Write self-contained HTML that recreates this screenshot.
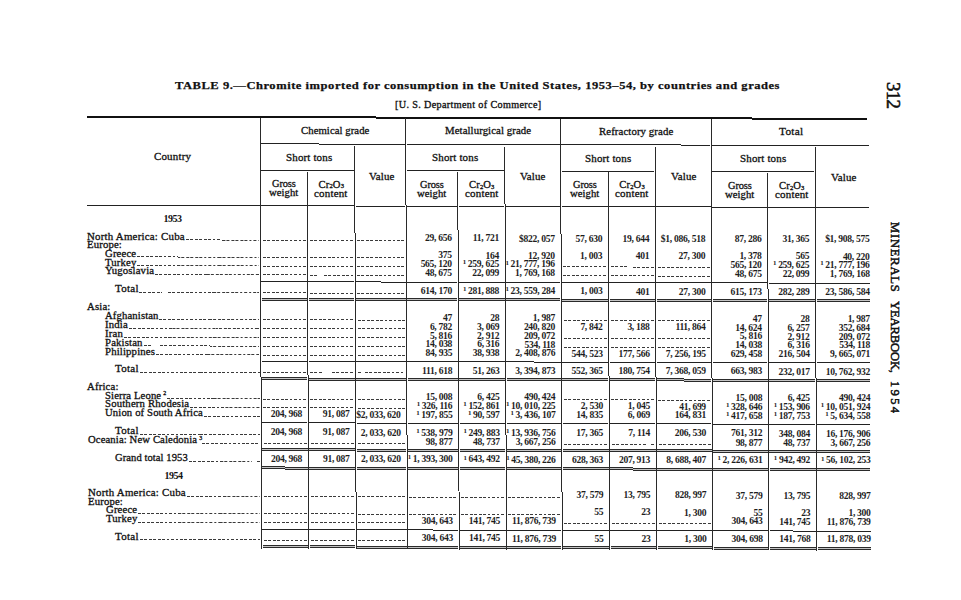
<!DOCTYPE html>
<html><head><meta charset="utf-8"><title>Table 9</title>
<style>
html,body{margin:0;padding:0;background:#fff;}
body{width:961px;height:600px;overflow:hidden;position:relative;}
#pg{position:absolute;left:0;top:0;width:961px;height:600px;font-family:"Liberation Serif", serif;color:#111;}
.t{position:absolute;white-space:nowrap;-webkit-text-stroke:0.3px #111;}
.l{position:absolute;}
.d{position:absolute;height:1.45px;background:repeating-linear-gradient(to right,#3a3a3a 0 2.8px,transparent 2.8px 4.44px);}
.r{transform-origin:0 0;transform:rotate(90deg);}
.sb{font-size:0.62em;position:relative;top:0.12em;letter-spacing:0;line-height:0;}
.sp{font-size:0.55em;position:relative;top:-0.55em;margin-left:2px;letter-spacing:0;line-height:0;}
.su{font-size:0.72em;position:relative;top:-0.42em;margin-right:1.6px;letter-spacing:0;line-height:0;}
</style></head><body><div id="pg">
<!--title-->
<div class="t" style="left:175.39px;top:79.89px;font-size:11.4px;line-height:11.4px;letter-spacing:0.477px;font-weight:bold;-webkit-text-stroke:0;color:#111;-webkit-text-stroke:0.25px #111;transform:scaleX(1.1013);transform-origin:0 0;">TABLE 9.—Chromite imported for consumption in the United States, 1953–54, by countries and grades</div>
<div class="t" style="left:395.26px;top:100.76px;font-size:9.4px;line-height:9.4px;letter-spacing:0.323px;color:#111;transform:scaleX(1.0837);transform-origin:0 0;">[U. S. Department of Commerce]</div>
<div class="l" style="left:87.00px;top:116px;width:289.07px;height:2px;background:#111"></div>
<div class="l" style="left:376.07px;top:117px;width:375.80px;height:2px;background:#111"></div>
<div class="l" style="left:751.87px;top:118px;width:115.63px;height:2px;background:#111"></div>
<div class="l" style="left:260.91px;top:143px;width:57.64px;height:1px;background:#222"></div>
<div class="l" style="left:318.55px;top:144px;width:86.46px;height:1px;background:#222"></div>
<div class="l" style="left:406.61px;top:144px;width:153.20px;height:1px;background:#222"></div>
<div class="l" style="left:561.41px;top:144px;width:119.12px;height:1px;background:#222"></div>
<div class="l" style="left:680.53px;top:145px;width:29.78px;height:1px;background:#222"></div>
<div class="l" style="left:711.91px;top:145px;width:157.20px;height:1px;background:#222"></div>
<div class="l" style="left:261.01px;top:170px;width:92.90px;height:1px;background:#222"></div>
<div class="l" style="left:406.71px;top:170px;width:97.40px;height:1px;background:#222"></div>
<div class="l" style="left:561.51px;top:171px;width:92.90px;height:1px;background:#222"></div>
<div class="l" style="left:712.01px;top:171px;width:102.40px;height:1px;background:#222"></div>
<div class="l" style="left:87.35px;top:205px;width:172.20px;height:1px;background:#222"></div>
<div class="l" style="left:261.15px;top:205px;width:45.40px;height:1px;background:#222"></div>
<div class="l" style="left:308.15px;top:205px;width:45.90px;height:1px;background:#222"></div>
<div class="l" style="left:355.65px;top:206px;width:49.60px;height:1px;background:#222"></div>
<div class="l" style="left:406.85px;top:206px;width:50.20px;height:1px;background:#222"></div>
<div class="l" style="left:458.65px;top:206px;width:45.60px;height:1px;background:#222"></div>
<div class="l" style="left:505.85px;top:206px;width:54.20px;height:1px;background:#222"></div>
<div class="l" style="left:561.65px;top:206px;width:45.90px;height:1px;background:#222"></div>
<div class="l" style="left:609.15px;top:206px;width:45.40px;height:1px;background:#222"></div>
<div class="l" style="left:656.15px;top:206px;width:54.40px;height:1px;background:#222"></div>
<div class="l" style="left:712.15px;top:207px;width:54.70px;height:1px;background:#222"></div>
<div class="l" style="left:768.45px;top:207px;width:46.10px;height:1px;background:#222"></div>
<div class="l" style="left:816.15px;top:207px;width:53.20px;height:1px;background:#222"></div>
<div class="l" style="left:260px;top:118.07px;width:1px;height:258.60px;background:#2a2a2a"></div>
<div class="l" style="left:261px;top:376.67px;width:1px;height:172.40px;background:#2a2a2a"></div>
<div class="l" style="left:307px;top:171.59px;width:1px;height:203.32px;background:#2a2a2a"></div>
<div class="l" style="left:308px;top:374.92px;width:1px;height:174.28px;background:#2a2a2a"></div>
<div class="l" style="left:354px;top:146.22px;width:1px;height:86.38px;background:#2a2a2a"></div>
<div class="l" style="left:355px;top:232.60px;width:1px;height:259.14px;background:#2a2a2a"></div>
<div class="l" style="left:356px;top:491.74px;width:1px;height:57.59px;background:#2a2a2a"></div>
<div class="l" style="left:405px;top:118.46px;width:1px;height:86.20px;background:#2a2a2a"></div>
<div class="l" style="left:406px;top:204.66px;width:1px;height:229.87px;background:#2a2a2a"></div>
<div class="l" style="left:407px;top:434.53px;width:1px;height:114.93px;background:#2a2a2a"></div>
<div class="l" style="left:457px;top:172.00px;width:1px;height:58.09px;background:#2a2a2a"></div>
<div class="l" style="left:458px;top:230.09px;width:1px;height:261.42px;background:#2a2a2a"></div>
<div class="l" style="left:459px;top:491.51px;width:1px;height:58.09px;background:#2a2a2a"></div>
<div class="l" style="left:504px;top:146.63px;width:1px;height:57.59px;background:#2a2a2a"></div>
<div class="l" style="left:505px;top:204.21px;width:1px;height:230.34px;background:#2a2a2a"></div>
<div class="l" style="left:506px;top:434.56px;width:1px;height:115.17px;background:#2a2a2a"></div>
<div class="l" style="left:560px;top:118.88px;width:1px;height:114.93px;background:#2a2a2a"></div>
<div class="l" style="left:561px;top:233.81px;width:1px;height:258.60px;background:#2a2a2a"></div>
<div class="l" style="left:562px;top:492.41px;width:1px;height:57.47px;background:#2a2a2a"></div>
<div class="l" style="left:608px;top:172.41px;width:1px;height:203.32px;background:#2a2a2a"></div>
<div class="l" style="left:609px;top:375.73px;width:1px;height:174.28px;background:#2a2a2a"></div>
<div class="l" style="left:655px;top:147.03px;width:1px;height:230.34px;background:#2a2a2a"></div>
<div class="l" style="left:656px;top:377.38px;width:1px;height:172.76px;background:#2a2a2a"></div>
<div class="l" style="left:711px;top:119.28px;width:1px;height:258.60px;background:#2a2a2a"></div>
<div class="l" style="left:712px;top:377.88px;width:1px;height:172.40px;background:#2a2a2a"></div>
<div class="l" style="left:767px;top:172.84px;width:1px;height:116.18px;background:#2a2a2a"></div>
<div class="l" style="left:768px;top:289.02px;width:1px;height:261.42px;background:#2a2a2a"></div>
<div class="l" style="left:815px;top:147.47px;width:1px;height:230.34px;background:#2a2a2a"></div>
<div class="l" style="left:816px;top:377.81px;width:1px;height:172.76px;background:#2a2a2a"></div>
<div class="l" style="left:261.46px;top:281px;width:45.40px;height:1px;background:#222"></div>
<div class="l" style="left:308.46px;top:281px;width:45.90px;height:1px;background:#222"></div>
<div class="l" style="left:355.96px;top:281px;width:24.80px;height:1px;background:#222"></div>
<div class="l" style="left:380.76px;top:282px;width:24.80px;height:1px;background:#222"></div>
<div class="l" style="left:407.16px;top:282px;width:50.20px;height:1px;background:#222"></div>
<div class="l" style="left:458.96px;top:282px;width:45.60px;height:1px;background:#222"></div>
<div class="l" style="left:506.16px;top:282px;width:54.20px;height:1px;background:#222"></div>
<div class="l" style="left:561.96px;top:282px;width:45.90px;height:1px;background:#222"></div>
<div class="l" style="left:609.46px;top:282px;width:45.40px;height:1px;background:#222"></div>
<div class="l" style="left:656.46px;top:282px;width:54.40px;height:1px;background:#222"></div>
<div class="l" style="left:712.46px;top:282px;width:54.70px;height:1px;background:#222"></div>
<div class="l" style="left:768.76px;top:283px;width:46.10px;height:1px;background:#222"></div>
<div class="l" style="left:816.46px;top:283px;width:53.20px;height:1px;background:#222"></div>
<div class="l" style="left:261.78px;top:361px;width:45.40px;height:1px;background:#222"></div>
<div class="l" style="left:308.78px;top:361px;width:45.90px;height:1px;background:#222"></div>
<div class="l" style="left:356.28px;top:361px;width:49.60px;height:1px;background:#222"></div>
<div class="l" style="left:407.48px;top:361px;width:50.20px;height:1px;background:#222"></div>
<div class="l" style="left:459.28px;top:361px;width:45.60px;height:1px;background:#222"></div>
<div class="l" style="left:506.48px;top:361px;width:27.10px;height:1px;background:#222"></div>
<div class="l" style="left:533.58px;top:362px;width:27.10px;height:1px;background:#222"></div>
<div class="l" style="left:562.28px;top:362px;width:45.90px;height:1px;background:#222"></div>
<div class="l" style="left:609.78px;top:362px;width:45.40px;height:1px;background:#222"></div>
<div class="l" style="left:656.78px;top:362px;width:54.40px;height:1px;background:#222"></div>
<div class="l" style="left:712.78px;top:362px;width:54.70px;height:1px;background:#222"></div>
<div class="l" style="left:769.08px;top:362px;width:46.10px;height:1px;background:#222"></div>
<div class="l" style="left:816.78px;top:362px;width:53.20px;height:1px;background:#222"></div>
<div class="l" style="left:262.02px;top:422px;width:45.40px;height:1px;background:#222"></div>
<div class="l" style="left:309.02px;top:422px;width:45.90px;height:1px;background:#222"></div>
<div class="l" style="left:356.52px;top:423px;width:49.60px;height:1px;background:#222"></div>
<div class="l" style="left:407.72px;top:423px;width:50.20px;height:1px;background:#222"></div>
<div class="l" style="left:459.52px;top:423px;width:45.60px;height:1px;background:#222"></div>
<div class="l" style="left:506.72px;top:423px;width:54.20px;height:1px;background:#222"></div>
<div class="l" style="left:562.52px;top:423px;width:45.90px;height:1px;background:#222"></div>
<div class="l" style="left:610.02px;top:423px;width:45.40px;height:1px;background:#222"></div>
<div class="l" style="left:657.02px;top:423px;width:54.40px;height:1px;background:#222"></div>
<div class="l" style="left:713.02px;top:424px;width:54.70px;height:1px;background:#222"></div>
<div class="l" style="left:769.32px;top:424px;width:46.10px;height:1px;background:#222"></div>
<div class="l" style="left:817.02px;top:424px;width:53.20px;height:1px;background:#222"></div>
<div class="l" style="left:262.45px;top:529px;width:45.40px;height:1px;background:#222"></div>
<div class="l" style="left:309.45px;top:529px;width:45.90px;height:1px;background:#222"></div>
<div class="l" style="left:356.95px;top:529px;width:49.60px;height:1px;background:#222"></div>
<div class="l" style="left:408.15px;top:529px;width:25.10px;height:1px;background:#222"></div>
<div class="l" style="left:433.25px;top:530px;width:25.10px;height:1px;background:#222"></div>
<div class="l" style="left:459.95px;top:530px;width:45.60px;height:1px;background:#222"></div>
<div class="l" style="left:507.15px;top:530px;width:54.20px;height:1px;background:#222"></div>
<div class="l" style="left:562.95px;top:530px;width:45.90px;height:1px;background:#222"></div>
<div class="l" style="left:610.45px;top:530px;width:45.40px;height:1px;background:#222"></div>
<div class="l" style="left:657.45px;top:530px;width:54.40px;height:1px;background:#222"></div>
<div class="l" style="left:713.45px;top:530px;width:54.70px;height:1px;background:#222"></div>
<div class="l" style="left:769.75px;top:530px;width:23.05px;height:1px;background:#222"></div>
<div class="l" style="left:792.80px;top:531px;width:23.05px;height:1px;background:#222"></div>
<div class="l" style="left:817.45px;top:531px;width:53.20px;height:1px;background:#222"></div>
<div class="l" style="left:261.53px;top:298px;width:45.40px;height:3px;background:linear-gradient(#2a2a2a 0 1px,#c4c4c4 1px 2px,#2a2a2a 2px 3px)"></div>
<div class="l" style="left:308.53px;top:298px;width:45.90px;height:3px;background:linear-gradient(#2a2a2a 0 1px,#c4c4c4 1px 2px,#2a2a2a 2px 3px)"></div>
<div class="l" style="left:356.03px;top:298px;width:49.60px;height:3px;background:linear-gradient(#2a2a2a 0 1px,#c4c4c4 1px 2px,#2a2a2a 2px 3px)"></div>
<div class="l" style="left:407.23px;top:298px;width:50.20px;height:3px;background:linear-gradient(#2a2a2a 0 1px,#c4c4c4 1px 2px,#2a2a2a 2px 3px)"></div>
<div class="l" style="left:459.03px;top:298px;width:45.60px;height:3px;background:linear-gradient(#2a2a2a 0 1px,#c4c4c4 1px 2px,#2a2a2a 2px 3px)"></div>
<div class="l" style="left:506.23px;top:298px;width:54.20px;height:3px;background:linear-gradient(#2a2a2a 0 1px,#c4c4c4 1px 2px,#2a2a2a 2px 3px)"></div>
<div class="l" style="left:562.03px;top:299px;width:45.90px;height:3px;background:linear-gradient(#2a2a2a 0 1px,#c4c4c4 1px 2px,#2a2a2a 2px 3px)"></div>
<div class="l" style="left:609.53px;top:299px;width:45.40px;height:3px;background:linear-gradient(#2a2a2a 0 1px,#c4c4c4 1px 2px,#2a2a2a 2px 3px)"></div>
<div class="l" style="left:656.53px;top:299px;width:54.40px;height:3px;background:linear-gradient(#2a2a2a 0 1px,#c4c4c4 1px 2px,#2a2a2a 2px 3px)"></div>
<div class="l" style="left:712.53px;top:299px;width:54.70px;height:3px;background:linear-gradient(#2a2a2a 0 1px,#c4c4c4 1px 2px,#2a2a2a 2px 3px)"></div>
<div class="l" style="left:768.83px;top:299px;width:46.10px;height:3px;background:linear-gradient(#2a2a2a 0 1px,#c4c4c4 1px 2px,#2a2a2a 2px 3px)"></div>
<div class="l" style="left:816.53px;top:299px;width:53.20px;height:3px;background:linear-gradient(#2a2a2a 0 1px,#c4c4c4 1px 2px,#2a2a2a 2px 3px)"></div>
<div class="l" style="left:261.85px;top:377px;width:45.40px;height:3px;background:linear-gradient(#2a2a2a 0 1px,#c4c4c4 1px 2px,#2a2a2a 2px 3px)"></div>
<div class="l" style="left:308.85px;top:378px;width:45.90px;height:3px;background:linear-gradient(#2a2a2a 0 1px,#c4c4c4 1px 2px,#2a2a2a 2px 3px)"></div>
<div class="l" style="left:356.35px;top:378px;width:49.60px;height:3px;background:linear-gradient(#2a2a2a 0 1px,#c4c4c4 1px 2px,#2a2a2a 2px 3px)"></div>
<div class="l" style="left:407.55px;top:378px;width:50.20px;height:3px;background:linear-gradient(#2a2a2a 0 1px,#c4c4c4 1px 2px,#2a2a2a 2px 3px)"></div>
<div class="l" style="left:459.35px;top:378px;width:45.60px;height:3px;background:linear-gradient(#2a2a2a 0 1px,#c4c4c4 1px 2px,#2a2a2a 2px 3px)"></div>
<div class="l" style="left:506.55px;top:378px;width:54.20px;height:3px;background:linear-gradient(#2a2a2a 0 1px,#c4c4c4 1px 2px,#2a2a2a 2px 3px)"></div>
<div class="l" style="left:562.35px;top:378px;width:45.90px;height:3px;background:linear-gradient(#2a2a2a 0 1px,#c4c4c4 1px 2px,#2a2a2a 2px 3px)"></div>
<div class="l" style="left:609.85px;top:378px;width:45.40px;height:3px;background:linear-gradient(#2a2a2a 0 1px,#c4c4c4 1px 2px,#2a2a2a 2px 3px)"></div>
<div class="l" style="left:656.85px;top:378px;width:27.20px;height:3px;background:linear-gradient(#2a2a2a 0 1px,#c4c4c4 1px 2px,#2a2a2a 2px 3px)"></div>
<div class="l" style="left:684.05px;top:379px;width:27.20px;height:3px;background:linear-gradient(#2a2a2a 0 1px,#c4c4c4 1px 2px,#2a2a2a 2px 3px)"></div>
<div class="l" style="left:712.85px;top:379px;width:54.70px;height:3px;background:linear-gradient(#2a2a2a 0 1px,#c4c4c4 1px 2px,#2a2a2a 2px 3px)"></div>
<div class="l" style="left:769.15px;top:379px;width:46.10px;height:3px;background:linear-gradient(#2a2a2a 0 1px,#c4c4c4 1px 2px,#2a2a2a 2px 3px)"></div>
<div class="l" style="left:816.85px;top:379px;width:53.20px;height:3px;background:linear-gradient(#2a2a2a 0 1px,#c4c4c4 1px 2px,#2a2a2a 2px 3px)"></div>
<div class="l" style="left:262.13px;top:448px;width:45.40px;height:3px;background:linear-gradient(#2a2a2a 0 1px,#c4c4c4 1px 2px,#2a2a2a 2px 3px)"></div>
<div class="l" style="left:309.13px;top:448px;width:45.90px;height:3px;background:linear-gradient(#2a2a2a 0 1px,#c4c4c4 1px 2px,#2a2a2a 2px 3px)"></div>
<div class="l" style="left:356.63px;top:449px;width:49.60px;height:3px;background:linear-gradient(#2a2a2a 0 1px,#c4c4c4 1px 2px,#2a2a2a 2px 3px)"></div>
<div class="l" style="left:407.83px;top:449px;width:50.20px;height:3px;background:linear-gradient(#2a2a2a 0 1px,#c4c4c4 1px 2px,#2a2a2a 2px 3px)"></div>
<div class="l" style="left:459.63px;top:449px;width:45.60px;height:3px;background:linear-gradient(#2a2a2a 0 1px,#c4c4c4 1px 2px,#2a2a2a 2px 3px)"></div>
<div class="l" style="left:506.83px;top:449px;width:54.20px;height:3px;background:linear-gradient(#2a2a2a 0 1px,#c4c4c4 1px 2px,#2a2a2a 2px 3px)"></div>
<div class="l" style="left:562.63px;top:449px;width:45.90px;height:3px;background:linear-gradient(#2a2a2a 0 1px,#c4c4c4 1px 2px,#2a2a2a 2px 3px)"></div>
<div class="l" style="left:610.13px;top:449px;width:45.40px;height:3px;background:linear-gradient(#2a2a2a 0 1px,#c4c4c4 1px 2px,#2a2a2a 2px 3px)"></div>
<div class="l" style="left:657.13px;top:449px;width:54.40px;height:3px;background:linear-gradient(#2a2a2a 0 1px,#c4c4c4 1px 2px,#2a2a2a 2px 3px)"></div>
<div class="l" style="left:713.13px;top:450px;width:54.70px;height:3px;background:linear-gradient(#2a2a2a 0 1px,#c4c4c4 1px 2px,#2a2a2a 2px 3px)"></div>
<div class="l" style="left:769.43px;top:450px;width:46.10px;height:3px;background:linear-gradient(#2a2a2a 0 1px,#c4c4c4 1px 2px,#2a2a2a 2px 3px)"></div>
<div class="l" style="left:817.13px;top:450px;width:53.20px;height:3px;background:linear-gradient(#2a2a2a 0 1px,#c4c4c4 1px 2px,#2a2a2a 2px 3px)"></div>
<div class="l" style="left:262.20px;top:466px;width:22.70px;height:3px;background:linear-gradient(#2a2a2a 0 1px,#c4c4c4 1px 2px,#2a2a2a 2px 3px)"></div>
<div class="l" style="left:284.90px;top:467px;width:22.70px;height:3px;background:linear-gradient(#2a2a2a 0 1px,#c4c4c4 1px 2px,#2a2a2a 2px 3px)"></div>
<div class="l" style="left:309.20px;top:467px;width:45.90px;height:3px;background:linear-gradient(#2a2a2a 0 1px,#c4c4c4 1px 2px,#2a2a2a 2px 3px)"></div>
<div class="l" style="left:356.70px;top:467px;width:49.60px;height:3px;background:linear-gradient(#2a2a2a 0 1px,#c4c4c4 1px 2px,#2a2a2a 2px 3px)"></div>
<div class="l" style="left:407.90px;top:467px;width:50.20px;height:3px;background:linear-gradient(#2a2a2a 0 1px,#c4c4c4 1px 2px,#2a2a2a 2px 3px)"></div>
<div class="l" style="left:459.70px;top:467px;width:45.60px;height:3px;background:linear-gradient(#2a2a2a 0 1px,#c4c4c4 1px 2px,#2a2a2a 2px 3px)"></div>
<div class="l" style="left:506.90px;top:467px;width:54.20px;height:3px;background:linear-gradient(#2a2a2a 0 1px,#c4c4c4 1px 2px,#2a2a2a 2px 3px)"></div>
<div class="l" style="left:562.70px;top:467px;width:45.90px;height:3px;background:linear-gradient(#2a2a2a 0 1px,#c4c4c4 1px 2px,#2a2a2a 2px 3px)"></div>
<div class="l" style="left:610.20px;top:467px;width:22.70px;height:3px;background:linear-gradient(#2a2a2a 0 1px,#c4c4c4 1px 2px,#2a2a2a 2px 3px)"></div>
<div class="l" style="left:632.90px;top:468px;width:22.70px;height:3px;background:linear-gradient(#2a2a2a 0 1px,#c4c4c4 1px 2px,#2a2a2a 2px 3px)"></div>
<div class="l" style="left:657.20px;top:468px;width:54.40px;height:3px;background:linear-gradient(#2a2a2a 0 1px,#c4c4c4 1px 2px,#2a2a2a 2px 3px)"></div>
<div class="l" style="left:713.20px;top:468px;width:54.70px;height:3px;background:linear-gradient(#2a2a2a 0 1px,#c4c4c4 1px 2px,#2a2a2a 2px 3px)"></div>
<div class="l" style="left:769.50px;top:468px;width:46.10px;height:3px;background:linear-gradient(#2a2a2a 0 1px,#c4c4c4 1px 2px,#2a2a2a 2px 3px)"></div>
<div class="l" style="left:817.20px;top:468px;width:53.20px;height:3px;background:linear-gradient(#2a2a2a 0 1px,#c4c4c4 1px 2px,#2a2a2a 2px 3px)"></div>
<div class="l" style="left:262.52px;top:545px;width:45.40px;height:3px;background:linear-gradient(#2a2a2a 0 1px,#c4c4c4 1px 2px,#2a2a2a 2px 3px)"></div>
<div class="l" style="left:309.52px;top:545px;width:45.90px;height:3px;background:linear-gradient(#2a2a2a 0 1px,#c4c4c4 1px 2px,#2a2a2a 2px 3px)"></div>
<div class="l" style="left:357.02px;top:546px;width:49.60px;height:3px;background:linear-gradient(#2a2a2a 0 1px,#c4c4c4 1px 2px,#2a2a2a 2px 3px)"></div>
<div class="l" style="left:408.22px;top:546px;width:50.20px;height:3px;background:linear-gradient(#2a2a2a 0 1px,#c4c4c4 1px 2px,#2a2a2a 2px 3px)"></div>
<div class="l" style="left:460.02px;top:546px;width:45.60px;height:3px;background:linear-gradient(#2a2a2a 0 1px,#c4c4c4 1px 2px,#2a2a2a 2px 3px)"></div>
<div class="l" style="left:507.22px;top:546px;width:54.20px;height:3px;background:linear-gradient(#2a2a2a 0 1px,#c4c4c4 1px 2px,#2a2a2a 2px 3px)"></div>
<div class="l" style="left:563.02px;top:546px;width:45.90px;height:3px;background:linear-gradient(#2a2a2a 0 1px,#c4c4c4 1px 2px,#2a2a2a 2px 3px)"></div>
<div class="l" style="left:610.52px;top:546px;width:45.40px;height:3px;background:linear-gradient(#2a2a2a 0 1px,#c4c4c4 1px 2px,#2a2a2a 2px 3px)"></div>
<div class="l" style="left:657.52px;top:546px;width:54.40px;height:3px;background:linear-gradient(#2a2a2a 0 1px,#c4c4c4 1px 2px,#2a2a2a 2px 3px)"></div>
<div class="l" style="left:713.52px;top:547px;width:54.70px;height:3px;background:linear-gradient(#2a2a2a 0 1px,#c4c4c4 1px 2px,#2a2a2a 2px 3px)"></div>
<div class="l" style="left:769.82px;top:547px;width:46.10px;height:3px;background:linear-gradient(#2a2a2a 0 1px,#c4c4c4 1px 2px,#2a2a2a 2px 3px)"></div>
<div class="l" style="left:817.52px;top:547px;width:53.20px;height:3px;background:linear-gradient(#2a2a2a 0 1px,#c4c4c4 1px 2px,#2a2a2a 2px 3px)"></div>
<div class="t" style="left:154.38px;top:152.20px;font-size:10.6px;line-height:10.6px;letter-spacing:0.163px;color:#111;transform:scaleX(1.0341);transform-origin:0 0;">Country</div>
<div class="t" style="left:300.97px;top:126.40px;font-size:10.6px;line-height:10.6px;letter-spacing:0.057px;color:#111;transform:scaleX(1.0121);transform-origin:0 0;">Chemical grade</div>
<div class="t" style="left:444.97px;top:126.49px;font-size:10.6px;line-height:10.6px;letter-spacing:0.081px;color:#111;transform:scaleX(1.0189);transform-origin:0 0;">Metallurgical grade</div>
<div class="t" style="left:598.62px;top:126.60px;font-size:10.6px;line-height:10.6px;letter-spacing:0.087px;color:#111;transform:scaleX(1.0198);transform-origin:0 0;">Refractory grade</div>
<div class="t" style="left:779.27px;top:126.79px;font-size:10.6px;line-height:10.6px;letter-spacing:0.261px;color:#111;transform:scaleX(1.0642);transform-origin:0 0;">Total</div>
<div class="t" style="left:286.03px;top:152.86px;font-size:10.6px;line-height:10.6px;letter-spacing:0.147px;color:#111;transform:scaleX(1.0351);transform-origin:0 0;">Short tons</div>
<div class="t" style="left:432.03px;top:153.25px;font-size:10.6px;line-height:10.6px;letter-spacing:0.147px;color:#111;transform:scaleX(1.0351);transform-origin:0 0;">Short tons</div>
<div class="t" style="left:584.73px;top:153.67px;font-size:10.6px;line-height:10.6px;letter-spacing:0.147px;color:#111;transform:scaleX(1.0351);transform-origin:0 0;">Short tons</div>
<div class="t" style="left:740.13px;top:154.09px;font-size:10.6px;line-height:10.6px;letter-spacing:0.147px;color:#111;transform:scaleX(1.0351);transform-origin:0 0;">Short tons</div>
<div class="t" style="left:368.75px;top:171.58px;font-size:10.6px;line-height:10.6px;letter-spacing:0.124px;color:#111;transform:scaleX(1.0264);transform-origin:0 0;">Value</div>
<div class="t" style="left:520.25px;top:171.99px;font-size:10.6px;line-height:10.6px;letter-spacing:0.124px;color:#111;transform:scaleX(1.0264);transform-origin:0 0;">Value</div>
<div class="t" style="left:671.15px;top:172.40px;font-size:10.6px;line-height:10.6px;letter-spacing:0.124px;color:#111;transform:scaleX(1.0264);transform-origin:0 0;">Value</div>
<div class="t" style="left:830.95px;top:172.83px;font-size:10.6px;line-height:10.6px;letter-spacing:0.124px;color:#111;transform:scaleX(1.0264);transform-origin:0 0;">Value</div>
<div class="t" style="left:271.93px;top:179.32px;font-size:10.6px;line-height:10.6px;letter-spacing:-0.106px;color:#111;transform:scaleX(0.9791);transform-origin:0 0;">Gross</div>
<div class="t" style="left:269.17px;top:188.41px;font-size:10.6px;line-height:10.6px;letter-spacing:0.038px;color:#111;transform:scaleX(1.0079);transform-origin:0 0;">weight</div>
<div class="t" style="left:314.27px;top:188.54px;font-size:10.6px;line-height:10.6px;letter-spacing:0.166px;color:#111;transform:scaleX(1.0387);transform-origin:0 0;">content</div>
<div class="t" style="left:318.53px;top:179.55px;font-size:10.6px;line-height:10.6px;letter-spacing:0.200px;color:#111;">Cr<span class="sb">2</span>O<span class="sb">3</span></div>
<div class="t" style="left:420.03px;top:179.72px;font-size:10.6px;line-height:10.6px;letter-spacing:-0.106px;color:#111;transform:scaleX(0.9791);transform-origin:0 0;">Gross</div>
<div class="t" style="left:417.27px;top:188.81px;font-size:10.6px;line-height:10.6px;letter-spacing:0.038px;color:#111;transform:scaleX(1.0079);transform-origin:0 0;">weight</div>
<div class="t" style="left:464.62px;top:188.94px;font-size:10.6px;line-height:10.6px;letter-spacing:0.166px;color:#111;transform:scaleX(1.0387);transform-origin:0 0;">content</div>
<div class="t" style="left:468.88px;top:179.95px;font-size:10.6px;line-height:10.6px;letter-spacing:0.200px;color:#111;">Cr<span class="sb">2</span>O<span class="sb">3</span></div>
<div class="t" style="left:572.68px;top:180.13px;font-size:10.6px;line-height:10.6px;letter-spacing:-0.106px;color:#111;transform:scaleX(0.9791);transform-origin:0 0;">Gross</div>
<div class="t" style="left:569.92px;top:189.23px;font-size:10.6px;line-height:10.6px;letter-spacing:0.038px;color:#111;transform:scaleX(1.0079);transform-origin:0 0;">weight</div>
<div class="t" style="left:615.02px;top:189.35px;font-size:10.6px;line-height:10.6px;letter-spacing:0.166px;color:#111;transform:scaleX(1.0387);transform-origin:0 0;">content</div>
<div class="t" style="left:619.28px;top:180.36px;font-size:10.6px;line-height:10.6px;letter-spacing:0.200px;color:#111;">Cr<span class="sb">2</span>O<span class="sb">3</span></div>
<div class="t" style="left:727.58px;top:180.55px;font-size:10.6px;line-height:10.6px;letter-spacing:-0.106px;color:#111;transform:scaleX(0.9791);transform-origin:0 0;">Gross</div>
<div class="t" style="left:724.82px;top:189.64px;font-size:10.6px;line-height:10.6px;letter-spacing:0.038px;color:#111;transform:scaleX(1.0079);transform-origin:0 0;">weight</div>
<div class="t" style="left:774.67px;top:189.78px;font-size:10.6px;line-height:10.6px;letter-spacing:0.166px;color:#111;transform:scaleX(1.0387);transform-origin:0 0;">content</div>
<div class="t" style="left:778.93px;top:180.79px;font-size:10.6px;line-height:10.6px;letter-spacing:0.200px;color:#111;">Cr<span class="sb">2</span>O<span class="sb">3</span></div>
<div class="t" style="left:163.57px;top:214.33px;font-size:10px;line-height:10px;letter-spacing:-0.525px;font-weight:bold;-webkit-text-stroke:0;color:#111;">1953</div>
<div class="t" style="left:86.89px;top:231.59px;font-size:10.4px;line-height:10.4px;letter-spacing:0.212px;color:#111;transform:scaleX(1.0472);transform-origin:0 0;">North America: Cuba</div>
<div class="d" style="left:185.79px;top:239px;width:36.60px;background-position:-0.00px 0"></div>
<div class="d" style="left:222.39px;top:240px;width:36.60px;background-position:-36.60px 0"></div>
<div class="d" style="left:262.69px;top:240px;width:43.00px;background-position:-0.00px 0"></div>
<div class="d" style="left:309.69px;top:240px;width:43.50px;background-position:-0.00px 0"></div>
<div class="d" style="left:357.19px;top:240px;width:47.20px;background-position:-0.00px 0"></div>
<div class="t" style="right:509.31px;top:233.24px;font-size:9.6px;line-height:9.6px;letter-spacing:-0.300px;color:#111;font-weight:bold;-webkit-text-stroke:0;color:#1e1e1e;">29, 656</div>
<div class="t" style="right:462.11px;top:233.37px;font-size:9.6px;line-height:9.6px;letter-spacing:-0.300px;color:#111;font-weight:bold;-webkit-text-stroke:0;color:#1e1e1e;">11, 721</div>
<div class="t" style="right:406.31px;top:233.52px;font-size:9.6px;line-height:9.6px;letter-spacing:-0.300px;color:#111;font-weight:bold;-webkit-text-stroke:0;color:#1e1e1e;">$822, 057</div>
<div class="t" style="right:358.81px;top:233.65px;font-size:9.6px;line-height:9.6px;letter-spacing:-0.300px;color:#111;font-weight:bold;-webkit-text-stroke:0;color:#1e1e1e;">57, 630</div>
<div class="t" style="right:311.81px;top:233.78px;font-size:9.6px;line-height:9.6px;letter-spacing:-0.300px;color:#111;font-weight:bold;-webkit-text-stroke:0;color:#1e1e1e;">19, 644</div>
<div class="t" style="right:255.81px;top:233.93px;font-size:9.6px;line-height:9.6px;letter-spacing:-0.300px;color:#111;font-weight:bold;-webkit-text-stroke:0;color:#1e1e1e;">$1, 086, 518</div>
<div class="t" style="right:199.51px;top:234.08px;font-size:9.6px;line-height:9.6px;letter-spacing:-0.300px;color:#111;font-weight:bold;-webkit-text-stroke:0;color:#1e1e1e;">87, 286</div>
<div class="t" style="right:151.81px;top:234.21px;font-size:9.6px;line-height:9.6px;letter-spacing:-0.300px;color:#111;font-weight:bold;-webkit-text-stroke:0;color:#1e1e1e;">31, 365</div>
<div class="t" style="right:91.51px;top:234.37px;font-size:9.6px;line-height:9.6px;letter-spacing:-0.300px;color:#111;font-weight:bold;-webkit-text-stroke:0;color:#1e1e1e;">$1, 908, 575</div>
<div class="t" style="left:86.93px;top:240.09px;font-size:10.4px;line-height:10.4px;letter-spacing:0.145px;color:#111;transform:scaleX(1.0319);transform-origin:0 0;">Europe:</div>
<div class="t" style="left:104.56px;top:248.84px;font-size:10.4px;line-height:10.4px;letter-spacing:0.146px;color:#111;transform:scaleX(1.0306);transform-origin:0 0;">Greece</div>
<div class="d" style="left:136.78px;top:256px;width:40.76px;background-position:-0.00px 0"></div>
<div class="d" style="left:177.54px;top:257px;width:40.76px;background-position:-40.76px 0"></div>
<div class="d" style="left:218.30px;top:257px;width:40.76px;background-position:-81.52px 0"></div>
<div class="d" style="left:262.76px;top:257px;width:43.00px;background-position:-0.00px 0"></div>
<div class="d" style="left:309.76px;top:257px;width:43.50px;background-position:-0.00px 0"></div>
<div class="d" style="left:357.26px;top:257px;width:47.20px;background-position:-0.00px 0"></div>
<div class="t" style="right:509.24px;top:250.44px;font-size:9.6px;line-height:9.6px;letter-spacing:-0.300px;color:#111;font-weight:bold;-webkit-text-stroke:0;color:#1e1e1e;">375</div>
<div class="t" style="right:462.04px;top:250.57px;font-size:9.6px;line-height:9.6px;letter-spacing:-0.300px;color:#111;font-weight:bold;-webkit-text-stroke:0;color:#1e1e1e;">164</div>
<div class="t" style="right:406.24px;top:250.72px;font-size:9.6px;line-height:9.6px;letter-spacing:-0.300px;color:#111;font-weight:bold;-webkit-text-stroke:0;color:#1e1e1e;">12, 920</div>
<div class="t" style="right:358.74px;top:250.85px;font-size:9.6px;line-height:9.6px;letter-spacing:-0.300px;color:#111;font-weight:bold;-webkit-text-stroke:0;color:#1e1e1e;">1, 003</div>
<div class="t" style="right:311.74px;top:250.98px;font-size:9.6px;line-height:9.6px;letter-spacing:-0.300px;color:#111;font-weight:bold;-webkit-text-stroke:0;color:#1e1e1e;">401</div>
<div class="t" style="right:255.74px;top:251.13px;font-size:9.6px;line-height:9.6px;letter-spacing:-0.300px;color:#111;font-weight:bold;-webkit-text-stroke:0;color:#1e1e1e;">27, 300</div>
<div class="t" style="right:199.44px;top:251.28px;font-size:9.6px;line-height:9.6px;letter-spacing:-0.300px;color:#111;font-weight:bold;-webkit-text-stroke:0;color:#1e1e1e;">1, 378</div>
<div class="t" style="right:151.74px;top:251.41px;font-size:9.6px;line-height:9.6px;letter-spacing:-0.300px;color:#111;font-weight:bold;-webkit-text-stroke:0;color:#1e1e1e;">565</div>
<div class="t" style="right:91.44px;top:251.57px;font-size:9.6px;line-height:9.6px;letter-spacing:-0.300px;color:#111;font-weight:bold;-webkit-text-stroke:0;color:#1e1e1e;">40, 220</div>
<div class="t" style="left:104.60px;top:257.54px;font-size:10.4px;line-height:10.4px;letter-spacing:0.146px;color:#111;transform:scaleX(1.0304);transform-origin:0 0;">Turkey</div>
<div class="d" style="left:137.03px;top:265px;width:40.69px;background-position:-0.00px 0"></div>
<div class="d" style="left:177.72px;top:265px;width:40.69px;background-position:-40.69px 0"></div>
<div class="d" style="left:218.41px;top:265px;width:40.69px;background-position:-81.37px 0"></div>
<div class="d" style="left:262.79px;top:266px;width:43.00px;background-position:-0.00px 0"></div>
<div class="d" style="left:309.79px;top:266px;width:43.50px;background-position:-0.00px 0"></div>
<div class="d" style="left:357.29px;top:266px;width:47.20px;background-position:-0.00px 0"></div>
<div class="t" style="right:509.20px;top:259.14px;font-size:9.6px;line-height:9.6px;letter-spacing:-0.300px;color:#111;font-weight:bold;-webkit-text-stroke:0;color:#1e1e1e;">565, 120</div>
<div class="t" style="right:462.00px;top:259.27px;font-size:9.6px;line-height:9.6px;letter-spacing:-0.300px;color:#111;font-weight:bold;-webkit-text-stroke:0;color:#1e1e1e;"><span class="su">1</span>259, 625</div>
<div class="t" style="right:406.20px;top:259.42px;font-size:9.6px;line-height:9.6px;letter-spacing:-0.300px;color:#111;font-weight:bold;-webkit-text-stroke:0;color:#1e1e1e;"><span class="su">1</span>21, 777, 196</div>
<div class="d" style="left:563.29px;top:266px;width:43.50px;background-position:-0.00px 0"></div>
<div class="d" style="left:610.79px;top:266px;width:15.80px;background-position:-0.00px 0"></div>
<div class="d" style="left:632.59px;top:267px;width:21.20px;background-position:-0.00px 0"></div>
<div class="d" style="left:657.79px;top:267px;width:52.00px;background-position:-0.00px 0"></div>
<div class="t" style="right:199.40px;top:259.98px;font-size:9.6px;line-height:9.6px;letter-spacing:-0.300px;color:#111;font-weight:bold;-webkit-text-stroke:0;color:#1e1e1e;">565, 120</div>
<div class="t" style="right:151.70px;top:260.11px;font-size:9.6px;line-height:9.6px;letter-spacing:-0.300px;color:#111;font-weight:bold;-webkit-text-stroke:0;color:#1e1e1e;"><span class="su">1</span>259, 625</div>
<div class="t" style="right:91.40px;top:260.27px;font-size:9.6px;line-height:9.6px;letter-spacing:-0.300px;color:#111;font-weight:bold;-webkit-text-stroke:0;color:#1e1e1e;"><span class="su">1</span>21, 777, 196</div>
<div class="t" style="left:104.63px;top:266.44px;font-size:10.4px;line-height:10.4px;letter-spacing:0.145px;color:#111;transform:scaleX(1.0325);transform-origin:0 0;">Yugoslavia</div>
<div class="d" style="left:154.82px;top:274px;width:52.16px;background-position:-0.00px 0"></div>
<div class="d" style="left:206.97px;top:274px;width:52.16px;background-position:-52.16px 0"></div>
<div class="d" style="left:262.83px;top:274px;width:43.00px;background-position:-0.00px 0"></div>
<div class="d" style="left:309.83px;top:275px;width:8.80px;background-position:-0.00px 0"></div>
<div class="d" style="left:323.63px;top:275px;width:29.70px;background-position:-0.00px 0"></div>
<div class="d" style="left:357.33px;top:275px;width:47.20px;background-position:-0.00px 0"></div>
<div class="t" style="right:509.17px;top:268.04px;font-size:9.6px;line-height:9.6px;letter-spacing:-0.300px;color:#111;font-weight:bold;-webkit-text-stroke:0;color:#1e1e1e;">48, 675</div>
<div class="t" style="right:461.97px;top:268.17px;font-size:9.6px;line-height:9.6px;letter-spacing:-0.300px;color:#111;font-weight:bold;-webkit-text-stroke:0;color:#1e1e1e;">22, 099</div>
<div class="t" style="right:406.17px;top:268.32px;font-size:9.6px;line-height:9.6px;letter-spacing:-0.300px;color:#111;font-weight:bold;-webkit-text-stroke:0;color:#1e1e1e;">1, 769, 168</div>
<div class="d" style="left:563.33px;top:275px;width:43.50px;background-position:-0.00px 0"></div>
<div class="d" style="left:610.83px;top:275px;width:43.00px;background-position:-0.00px 0"></div>
<div class="d" style="left:657.83px;top:276px;width:52.00px;background-position:-0.00px 0"></div>
<div class="t" style="right:199.37px;top:268.88px;font-size:9.6px;line-height:9.6px;letter-spacing:-0.300px;color:#111;font-weight:bold;-webkit-text-stroke:0;color:#1e1e1e;">48, 675</div>
<div class="t" style="right:151.67px;top:269.01px;font-size:9.6px;line-height:9.6px;letter-spacing:-0.300px;color:#111;font-weight:bold;-webkit-text-stroke:0;color:#1e1e1e;">22, 099</div>
<div class="t" style="right:91.37px;top:269.17px;font-size:9.6px;line-height:9.6px;letter-spacing:-0.300px;color:#111;font-weight:bold;-webkit-text-stroke:0;color:#1e1e1e;">1, 769, 168</div>
<div class="t" style="left:114.50px;top:284.46px;font-size:10.4px;line-height:10.4px;letter-spacing:0.236px;color:#111;transform:scaleX(1.0589);transform-origin:0 0;">Total</div>
<div class="d" style="left:139.20px;top:292px;width:22.90px;background-position:-0.00px 0"></div>
<div class="d" style="left:167.50px;top:292px;width:45.85px;background-position:-0.00px 0"></div>
<div class="d" style="left:213.35px;top:292px;width:45.85px;background-position:-45.85px 0"></div>
<div class="d" style="left:262.90px;top:292px;width:43.00px;background-position:-0.00px 0"></div>
<div class="d" style="left:309.90px;top:293px;width:43.50px;background-position:-0.00px 0"></div>
<div class="d" style="left:357.40px;top:293px;width:47.20px;background-position:-0.00px 0"></div>
<div class="t" style="right:509.10px;top:286.04px;font-size:9.6px;line-height:9.6px;letter-spacing:-0.300px;color:#111;font-weight:bold;-webkit-text-stroke:0;color:#1e1e1e;">614, 170</div>
<div class="t" style="right:461.90px;top:286.17px;font-size:9.6px;line-height:9.6px;letter-spacing:-0.300px;color:#111;font-weight:bold;-webkit-text-stroke:0;color:#1e1e1e;"><span class="su">1</span>281, 888</div>
<div class="t" style="right:406.10px;top:286.32px;font-size:9.6px;line-height:9.6px;letter-spacing:-0.300px;color:#111;font-weight:bold;-webkit-text-stroke:0;color:#1e1e1e;"><span class="su">1</span>23, 559, 284</div>
<div class="t" style="right:358.60px;top:286.45px;font-size:9.6px;line-height:9.6px;letter-spacing:-0.300px;color:#111;font-weight:bold;-webkit-text-stroke:0;color:#1e1e1e;">1, 003</div>
<div class="t" style="right:311.60px;top:286.58px;font-size:9.6px;line-height:9.6px;letter-spacing:-0.300px;color:#111;font-weight:bold;-webkit-text-stroke:0;color:#1e1e1e;">401</div>
<div class="t" style="right:255.60px;top:286.73px;font-size:9.6px;line-height:9.6px;letter-spacing:-0.300px;color:#111;font-weight:bold;-webkit-text-stroke:0;color:#1e1e1e;">27, 300</div>
<div class="t" style="right:199.30px;top:286.88px;font-size:9.6px;line-height:9.6px;letter-spacing:-0.300px;color:#111;font-weight:bold;-webkit-text-stroke:0;color:#1e1e1e;">615, 173</div>
<div class="t" style="right:151.60px;top:287.01px;font-size:9.6px;line-height:9.6px;letter-spacing:-0.300px;color:#111;font-weight:bold;-webkit-text-stroke:0;color:#1e1e1e;">282, 289</div>
<div class="t" style="right:91.30px;top:287.17px;font-size:9.6px;line-height:9.6px;letter-spacing:-0.300px;color:#111;font-weight:bold;-webkit-text-stroke:0;color:#1e1e1e;">23, 586, 584</div>
<div class="t" style="left:87.18px;top:302.49px;font-size:10.4px;line-height:10.4px;letter-spacing:0.145px;color:#111;transform:scaleX(1.0342);transform-origin:0 0;">Asia:</div>
<div class="t" style="left:104.81px;top:311.34px;font-size:10.4px;line-height:10.4px;letter-spacing:0.124px;color:#111;transform:scaleX(1.0276);transform-origin:0 0;">Afghanistan</div>
<div class="d" style="left:159.41px;top:319px;width:49.95px;background-position:-0.00px 0"></div>
<div class="d" style="left:209.36px;top:319px;width:49.95px;background-position:-49.95px 0"></div>
<div class="d" style="left:263.01px;top:319px;width:43.00px;background-position:-0.00px 0"></div>
<div class="d" style="left:310.01px;top:319px;width:43.50px;background-position:-0.00px 0"></div>
<div class="d" style="left:357.51px;top:320px;width:47.20px;background-position:-0.00px 0"></div>
<div class="t" style="right:508.99px;top:312.94px;font-size:9.6px;line-height:9.6px;letter-spacing:-0.300px;color:#111;font-weight:bold;-webkit-text-stroke:0;color:#1e1e1e;">47</div>
<div class="t" style="right:461.79px;top:313.07px;font-size:9.6px;line-height:9.6px;letter-spacing:-0.300px;color:#111;font-weight:bold;-webkit-text-stroke:0;color:#1e1e1e;">28</div>
<div class="t" style="right:405.99px;top:313.22px;font-size:9.6px;line-height:9.6px;letter-spacing:-0.300px;color:#111;font-weight:bold;-webkit-text-stroke:0;color:#1e1e1e;">1, 987</div>
<div class="d" style="left:563.51px;top:320px;width:43.50px;background-position:-0.00px 0"></div>
<div class="d" style="left:611.01px;top:320px;width:43.00px;background-position:-0.00px 0"></div>
<div class="d" style="left:658.01px;top:320px;width:52.00px;background-position:-0.00px 0"></div>
<div class="t" style="right:199.19px;top:313.78px;font-size:9.6px;line-height:9.6px;letter-spacing:-0.300px;color:#111;font-weight:bold;-webkit-text-stroke:0;color:#1e1e1e;">47</div>
<div class="t" style="right:151.49px;top:313.91px;font-size:9.6px;line-height:9.6px;letter-spacing:-0.300px;color:#111;font-weight:bold;-webkit-text-stroke:0;color:#1e1e1e;">28</div>
<div class="t" style="right:91.19px;top:314.07px;font-size:9.6px;line-height:9.6px;letter-spacing:-0.300px;color:#111;font-weight:bold;-webkit-text-stroke:0;color:#1e1e1e;">1, 987</div>
<div class="t" style="left:104.85px;top:320.14px;font-size:10.4px;line-height:10.4px;letter-spacing:0.145px;color:#111;transform:scaleX(1.0351);transform-origin:0 0;">India</div>
<div class="d" style="left:128.70px;top:328px;width:43.55px;background-position:-0.00px 0"></div>
<div class="d" style="left:172.25px;top:328px;width:43.55px;background-position:-43.55px 0"></div>
<div class="d" style="left:215.80px;top:328px;width:43.55px;background-position:-87.09px 0"></div>
<div class="d" style="left:263.04px;top:328px;width:43.00px;background-position:-0.00px 0"></div>
<div class="d" style="left:310.04px;top:328px;width:43.50px;background-position:-0.00px 0"></div>
<div class="d" style="left:357.54px;top:328px;width:47.20px;background-position:-0.00px 0"></div>
<div class="t" style="right:508.95px;top:321.74px;font-size:9.6px;line-height:9.6px;letter-spacing:-0.300px;color:#111;font-weight:bold;-webkit-text-stroke:0;color:#1e1e1e;">6, 782</div>
<div class="t" style="right:461.75px;top:321.87px;font-size:9.6px;line-height:9.6px;letter-spacing:-0.300px;color:#111;font-weight:bold;-webkit-text-stroke:0;color:#1e1e1e;">3, 069</div>
<div class="t" style="right:405.95px;top:322.02px;font-size:9.6px;line-height:9.6px;letter-spacing:-0.300px;color:#111;font-weight:bold;-webkit-text-stroke:0;color:#1e1e1e;">240, 820</div>
<div class="t" style="right:358.45px;top:322.15px;font-size:9.6px;line-height:9.6px;letter-spacing:-0.300px;color:#111;font-weight:bold;-webkit-text-stroke:0;color:#1e1e1e;">7, 842</div>
<div class="t" style="right:311.45px;top:322.28px;font-size:9.6px;line-height:9.6px;letter-spacing:-0.300px;color:#111;font-weight:bold;-webkit-text-stroke:0;color:#1e1e1e;">3, 188</div>
<div class="t" style="right:255.45px;top:322.43px;font-size:9.6px;line-height:9.6px;letter-spacing:-0.300px;color:#111;font-weight:bold;-webkit-text-stroke:0;color:#1e1e1e;">111, 864</div>
<div class="t" style="right:199.15px;top:322.58px;font-size:9.6px;line-height:9.6px;letter-spacing:-0.300px;color:#111;font-weight:bold;-webkit-text-stroke:0;color:#1e1e1e;">14, 624</div>
<div class="t" style="right:151.45px;top:322.71px;font-size:9.6px;line-height:9.6px;letter-spacing:-0.300px;color:#111;font-weight:bold;-webkit-text-stroke:0;color:#1e1e1e;">6, 257</div>
<div class="t" style="right:91.15px;top:322.87px;font-size:9.6px;line-height:9.6px;letter-spacing:-0.300px;color:#111;font-weight:bold;-webkit-text-stroke:0;color:#1e1e1e;">352, 684</div>
<div class="t" style="left:104.88px;top:328.94px;font-size:10.4px;line-height:10.4px;letter-spacing:0.145px;color:#111;transform:scaleX(1.0359);transform-origin:0 0;">Iran</div>
<div class="d" style="left:123.81px;top:337px;width:45.19px;background-position:-0.00px 0"></div>
<div class="d" style="left:169.00px;top:337px;width:45.19px;background-position:-45.19px 0"></div>
<div class="d" style="left:214.19px;top:337px;width:45.19px;background-position:-90.38px 0"></div>
<div class="d" style="left:263.08px;top:337px;width:43.00px;background-position:-0.00px 0"></div>
<div class="d" style="left:310.08px;top:337px;width:43.50px;background-position:-0.00px 0"></div>
<div class="d" style="left:357.58px;top:337px;width:47.20px;background-position:-0.00px 0"></div>
<div class="t" style="right:508.92px;top:330.54px;font-size:9.6px;line-height:9.6px;letter-spacing:-0.300px;color:#111;font-weight:bold;-webkit-text-stroke:0;color:#1e1e1e;">5, 816</div>
<div class="t" style="right:461.72px;top:330.67px;font-size:9.6px;line-height:9.6px;letter-spacing:-0.300px;color:#111;font-weight:bold;-webkit-text-stroke:0;color:#1e1e1e;">2, 912</div>
<div class="t" style="right:405.92px;top:330.82px;font-size:9.6px;line-height:9.6px;letter-spacing:-0.300px;color:#111;font-weight:bold;-webkit-text-stroke:0;color:#1e1e1e;">209, 072</div>
<div class="d" style="left:563.58px;top:338px;width:43.50px;background-position:-0.00px 0"></div>
<div class="d" style="left:611.08px;top:338px;width:43.00px;background-position:-0.00px 0"></div>
<div class="d" style="left:658.08px;top:338px;width:52.00px;background-position:-0.00px 0"></div>
<div class="t" style="right:199.12px;top:331.38px;font-size:9.6px;line-height:9.6px;letter-spacing:-0.300px;color:#111;font-weight:bold;-webkit-text-stroke:0;color:#1e1e1e;">5, 816</div>
<div class="t" style="right:151.42px;top:331.51px;font-size:9.6px;line-height:9.6px;letter-spacing:-0.300px;color:#111;font-weight:bold;-webkit-text-stroke:0;color:#1e1e1e;">2, 912</div>
<div class="t" style="right:91.12px;top:331.67px;font-size:9.6px;line-height:9.6px;letter-spacing:-0.300px;color:#111;font-weight:bold;-webkit-text-stroke:0;color:#1e1e1e;">209, 072</div>
<div class="t" style="left:104.92px;top:337.74px;font-size:10.4px;line-height:10.4px;letter-spacing:0.145px;color:#111;transform:scaleX(1.0341);transform-origin:0 0;">Pakistan</div>
<div class="d" style="left:143.53px;top:345px;width:9.38px;background-position:-0.00px 0"></div>
<div class="d" style="left:159.61px;top:345px;width:49.90px;background-position:-0.00px 0"></div>
<div class="d" style="left:209.51px;top:346px;width:49.90px;background-position:-49.90px 0"></div>
<div class="d" style="left:263.11px;top:346px;width:43.00px;background-position:-0.00px 0"></div>
<div class="d" style="left:310.11px;top:346px;width:43.50px;background-position:-0.00px 0"></div>
<div class="d" style="left:357.61px;top:346px;width:47.20px;background-position:-0.00px 0"></div>
<div class="t" style="right:508.88px;top:339.34px;font-size:9.6px;line-height:9.6px;letter-spacing:-0.300px;color:#111;font-weight:bold;-webkit-text-stroke:0;color:#1e1e1e;">14, 038</div>
<div class="t" style="right:461.68px;top:339.47px;font-size:9.6px;line-height:9.6px;letter-spacing:-0.300px;color:#111;font-weight:bold;-webkit-text-stroke:0;color:#1e1e1e;">6, 316</div>
<div class="t" style="right:405.88px;top:339.62px;font-size:9.6px;line-height:9.6px;letter-spacing:-0.300px;color:#111;font-weight:bold;-webkit-text-stroke:0;color:#1e1e1e;">534, 118</div>
<div class="d" style="left:563.61px;top:347px;width:43.50px;background-position:-0.00px 0"></div>
<div class="d" style="left:611.11px;top:347px;width:43.00px;background-position:-0.00px 0"></div>
<div class="d" style="left:658.11px;top:347px;width:52.00px;background-position:-0.00px 0"></div>
<div class="t" style="right:199.08px;top:340.18px;font-size:9.6px;line-height:9.6px;letter-spacing:-0.300px;color:#111;font-weight:bold;-webkit-text-stroke:0;color:#1e1e1e;">14, 038</div>
<div class="t" style="right:151.38px;top:340.31px;font-size:9.6px;line-height:9.6px;letter-spacing:-0.300px;color:#111;font-weight:bold;-webkit-text-stroke:0;color:#1e1e1e;">6, 316</div>
<div class="t" style="right:91.08px;top:340.47px;font-size:9.6px;line-height:9.6px;letter-spacing:-0.300px;color:#111;font-weight:bold;-webkit-text-stroke:0;color:#1e1e1e;">534, 118</div>
<div class="t" style="left:104.95px;top:346.54px;font-size:10.4px;line-height:10.4px;letter-spacing:0.145px;color:#111;transform:scaleX(1.0353);transform-origin:0 0;">Philippines</div>
<div class="d" style="left:156.02px;top:354px;width:51.72px;background-position:-0.00px 0"></div>
<div class="d" style="left:207.73px;top:354px;width:51.72px;background-position:-51.72px 0"></div>
<div class="d" style="left:263.15px;top:355px;width:43.00px;background-position:-0.00px 0"></div>
<div class="d" style="left:310.15px;top:355px;width:43.50px;background-position:-0.00px 0"></div>
<div class="d" style="left:357.65px;top:355px;width:47.20px;background-position:-0.00px 0"></div>
<div class="t" style="right:508.85px;top:348.14px;font-size:9.6px;line-height:9.6px;letter-spacing:-0.300px;color:#111;font-weight:bold;-webkit-text-stroke:0;color:#1e1e1e;">84, 935</div>
<div class="t" style="right:461.65px;top:348.27px;font-size:9.6px;line-height:9.6px;letter-spacing:-0.300px;color:#111;font-weight:bold;-webkit-text-stroke:0;color:#1e1e1e;">38, 938</div>
<div class="t" style="right:405.85px;top:348.42px;font-size:9.6px;line-height:9.6px;letter-spacing:-0.300px;color:#111;font-weight:bold;-webkit-text-stroke:0;color:#1e1e1e;">2, 408, 876</div>
<div class="t" style="right:358.35px;top:348.55px;font-size:9.6px;line-height:9.6px;letter-spacing:-0.300px;color:#111;font-weight:bold;-webkit-text-stroke:0;color:#1e1e1e;">544, 523</div>
<div class="t" style="right:311.35px;top:348.68px;font-size:9.6px;line-height:9.6px;letter-spacing:-0.300px;color:#111;font-weight:bold;-webkit-text-stroke:0;color:#1e1e1e;">177, 566</div>
<div class="t" style="right:255.35px;top:348.83px;font-size:9.6px;line-height:9.6px;letter-spacing:-0.300px;color:#111;font-weight:bold;-webkit-text-stroke:0;color:#1e1e1e;">7, 256, 195</div>
<div class="t" style="right:199.05px;top:348.98px;font-size:9.6px;line-height:9.6px;letter-spacing:-0.300px;color:#111;font-weight:bold;-webkit-text-stroke:0;color:#1e1e1e;">629, 458</div>
<div class="t" style="right:151.35px;top:349.11px;font-size:9.6px;line-height:9.6px;letter-spacing:-0.300px;color:#111;font-weight:bold;-webkit-text-stroke:0;color:#1e1e1e;">216, 504</div>
<div class="t" style="right:91.05px;top:349.27px;font-size:9.6px;line-height:9.6px;letter-spacing:-0.300px;color:#111;font-weight:bold;-webkit-text-stroke:0;color:#1e1e1e;">9, 665, 071</div>
<div class="t" style="left:114.82px;top:364.06px;font-size:10.4px;line-height:10.4px;letter-spacing:0.236px;color:#111;transform:scaleX(1.0589);transform-origin:0 0;">Total</div>
<div class="d" style="left:139.52px;top:372px;width:60.00px;background-position:-0.00px 0"></div>
<div class="d" style="left:199.52px;top:372px;width:60.00px;background-position:-60.00px 0"></div>
<div class="d" style="left:263.22px;top:372px;width:43.00px;background-position:-0.00px 0"></div>
<div class="d" style="left:310.22px;top:372px;width:11.80px;background-position:-0.00px 0"></div>
<div class="d" style="left:332.02px;top:372px;width:21.70px;background-position:-0.00px 0"></div>
<div class="d" style="left:357.72px;top:372px;width:2.80px;background-position:-0.00px 0"></div>
<div class="d" style="left:364.52px;top:372px;width:40.40px;background-position:-0.00px 0"></div>
<div class="t" style="right:508.78px;top:365.64px;font-size:9.6px;line-height:9.6px;letter-spacing:-0.300px;color:#111;font-weight:bold;-webkit-text-stroke:0;color:#1e1e1e;">111, 618</div>
<div class="t" style="right:461.58px;top:365.77px;font-size:9.6px;line-height:9.6px;letter-spacing:-0.300px;color:#111;font-weight:bold;-webkit-text-stroke:0;color:#1e1e1e;">51, 263</div>
<div class="t" style="right:405.78px;top:365.92px;font-size:9.6px;line-height:9.6px;letter-spacing:-0.300px;color:#111;font-weight:bold;-webkit-text-stroke:0;color:#1e1e1e;">3, 394, 873</div>
<div class="t" style="right:358.28px;top:366.05px;font-size:9.6px;line-height:9.6px;letter-spacing:-0.300px;color:#111;font-weight:bold;-webkit-text-stroke:0;color:#1e1e1e;">552, 365</div>
<div class="t" style="right:311.28px;top:366.18px;font-size:9.6px;line-height:9.6px;letter-spacing:-0.300px;color:#111;font-weight:bold;-webkit-text-stroke:0;color:#1e1e1e;">180, 754</div>
<div class="t" style="right:255.28px;top:366.33px;font-size:9.6px;line-height:9.6px;letter-spacing:-0.300px;color:#111;font-weight:bold;-webkit-text-stroke:0;color:#1e1e1e;">7, 368, 059</div>
<div class="t" style="right:198.98px;top:366.48px;font-size:9.6px;line-height:9.6px;letter-spacing:-0.300px;color:#111;font-weight:bold;-webkit-text-stroke:0;color:#1e1e1e;">663, 983</div>
<div class="t" style="right:151.28px;top:366.61px;font-size:9.6px;line-height:9.6px;letter-spacing:-0.300px;color:#111;font-weight:bold;-webkit-text-stroke:0;color:#1e1e1e;">232, 017</div>
<div class="t" style="right:90.98px;top:366.77px;font-size:9.6px;line-height:9.6px;letter-spacing:-0.300px;color:#111;font-weight:bold;-webkit-text-stroke:0;color:#1e1e1e;">10, 762, 932</div>
<div class="t" style="left:87.49px;top:381.59px;font-size:10.4px;line-height:10.4px;letter-spacing:0.145px;color:#111;transform:scaleX(1.0357);transform-origin:0 0;">Africa:</div>
<div class="t" style="left:105.13px;top:390.54px;font-size:10.4px;line-height:10.4px;letter-spacing:0.115px;color:#111;transform:scaleX(1.0265);transform-origin:0 0;">Sierra Leone<span class="sp">2</span></div>
<div class="d" style="left:166.83px;top:398px;width:46.40px;background-position:-0.00px 0"></div>
<div class="d" style="left:213.23px;top:398px;width:46.40px;background-position:-46.40px 0"></div>
<div class="d" style="left:263.33px;top:399px;width:43.00px;background-position:-0.00px 0"></div>
<div class="d" style="left:310.33px;top:399px;width:43.50px;background-position:-0.00px 0"></div>
<div class="d" style="left:357.83px;top:399px;width:47.20px;background-position:-0.00px 0"></div>
<div class="t" style="right:508.67px;top:392.14px;font-size:9.6px;line-height:9.6px;letter-spacing:-0.300px;color:#111;font-weight:bold;-webkit-text-stroke:0;color:#1e1e1e;">15, 008</div>
<div class="t" style="right:461.47px;top:392.27px;font-size:9.6px;line-height:9.6px;letter-spacing:-0.300px;color:#111;font-weight:bold;-webkit-text-stroke:0;color:#1e1e1e;">6, 425</div>
<div class="t" style="right:405.67px;top:392.42px;font-size:9.6px;line-height:9.6px;letter-spacing:-0.300px;color:#111;font-weight:bold;-webkit-text-stroke:0;color:#1e1e1e;">490, 424</div>
<div class="d" style="left:563.83px;top:399px;width:43.50px;background-position:-0.00px 0"></div>
<div class="d" style="left:611.33px;top:399px;width:43.00px;background-position:-0.00px 0"></div>
<div class="d" style="left:658.33px;top:400px;width:52.00px;background-position:-0.00px 0"></div>
<div class="t" style="right:198.87px;top:392.98px;font-size:9.6px;line-height:9.6px;letter-spacing:-0.300px;color:#111;font-weight:bold;-webkit-text-stroke:0;color:#1e1e1e;">15, 008</div>
<div class="t" style="right:151.17px;top:393.11px;font-size:9.6px;line-height:9.6px;letter-spacing:-0.300px;color:#111;font-weight:bold;-webkit-text-stroke:0;color:#1e1e1e;">6, 425</div>
<div class="t" style="right:90.87px;top:393.27px;font-size:9.6px;line-height:9.6px;letter-spacing:-0.300px;color:#111;font-weight:bold;-webkit-text-stroke:0;color:#1e1e1e;">490, 424</div>
<div class="t" style="left:105.16px;top:399.34px;font-size:10.4px;line-height:10.4px;letter-spacing:0.156px;color:#111;transform:scaleX(1.0349);transform-origin:0 0;">Southern Rhodesia</div>
<div class="d" style="left:190.46px;top:407px;width:34.60px;background-position:-0.00px 0"></div>
<div class="d" style="left:225.06px;top:407px;width:34.60px;background-position:-34.60px 0"></div>
<div class="d" style="left:263.36px;top:407px;width:43.00px;background-position:-0.00px 0"></div>
<div class="d" style="left:310.36px;top:407px;width:43.50px;background-position:-0.00px 0"></div>
<div class="d" style="left:357.86px;top:408px;width:47.20px;background-position:-0.00px 0"></div>
<div class="t" style="right:508.64px;top:400.94px;font-size:9.6px;line-height:9.6px;letter-spacing:-0.300px;color:#111;font-weight:bold;-webkit-text-stroke:0;color:#1e1e1e;"><span class="su">1</span>326, 116</div>
<div class="t" style="right:461.44px;top:401.07px;font-size:9.6px;line-height:9.6px;letter-spacing:-0.300px;color:#111;font-weight:bold;-webkit-text-stroke:0;color:#1e1e1e;"><span class="su">1</span>152, 861</div>
<div class="t" style="right:405.64px;top:401.22px;font-size:9.6px;line-height:9.6px;letter-spacing:-0.300px;color:#111;font-weight:bold;-webkit-text-stroke:0;color:#1e1e1e;"><span class="su">1</span>10, 010, 225</div>
<div class="t" style="right:358.14px;top:401.35px;font-size:9.6px;line-height:9.6px;letter-spacing:-0.300px;color:#111;font-weight:bold;-webkit-text-stroke:0;color:#1e1e1e;">2, 530</div>
<div class="t" style="right:311.14px;top:401.48px;font-size:9.6px;line-height:9.6px;letter-spacing:-0.300px;color:#111;font-weight:bold;-webkit-text-stroke:0;color:#1e1e1e;">1, 045</div>
<div class="t" style="right:255.14px;top:401.63px;font-size:9.6px;line-height:9.6px;letter-spacing:-0.300px;color:#111;font-weight:bold;-webkit-text-stroke:0;color:#1e1e1e;">41, 699</div>
<div class="t" style="right:198.84px;top:401.78px;font-size:9.6px;line-height:9.6px;letter-spacing:-0.300px;color:#111;font-weight:bold;-webkit-text-stroke:0;color:#1e1e1e;"><span class="su">1</span>328, 646</div>
<div class="t" style="right:151.14px;top:401.91px;font-size:9.6px;line-height:9.6px;letter-spacing:-0.300px;color:#111;font-weight:bold;-webkit-text-stroke:0;color:#1e1e1e;"><span class="su">1</span>153, 906</div>
<div class="t" style="right:90.84px;top:402.07px;font-size:9.6px;line-height:9.6px;letter-spacing:-0.300px;color:#111;font-weight:bold;-webkit-text-stroke:0;color:#1e1e1e;"><span class="su">1</span>10, 051, 924</div>
<div class="t" style="left:105.20px;top:408.14px;font-size:10.4px;line-height:10.4px;letter-spacing:0.122px;color:#111;transform:scaleX(1.0284);transform-origin:0 0;">Union of South Africa</div>
<div class="d" style="left:204.10px;top:416px;width:55.60px;background-position:-0.00px 0"></div>
<div class="t" style="right:659.10px;top:409.34px;font-size:9.6px;line-height:9.6px;letter-spacing:-0.300px;color:#111;font-weight:bold;-webkit-text-stroke:0;color:#1e1e1e;">204, 968</div>
<div class="t" style="right:611.60px;top:409.47px;font-size:9.6px;line-height:9.6px;letter-spacing:-0.300px;color:#111;font-weight:bold;-webkit-text-stroke:0;color:#1e1e1e;">91, 087</div>
<div class="t" style="right:560.40px;top:409.60px;font-size:9.6px;line-height:9.6px;letter-spacing:-0.300px;color:#111;font-weight:bold;-webkit-text-stroke:0;color:#1e1e1e;">$2, 033, 620</div>
<div class="t" style="right:508.60px;top:409.74px;font-size:9.6px;line-height:9.6px;letter-spacing:-0.300px;color:#111;font-weight:bold;-webkit-text-stroke:0;color:#1e1e1e;"><span class="su">1</span>197, 855</div>
<div class="t" style="right:461.40px;top:409.87px;font-size:9.6px;line-height:9.6px;letter-spacing:-0.300px;color:#111;font-weight:bold;-webkit-text-stroke:0;color:#1e1e1e;"><span class="su">1</span>90, 597</div>
<div class="t" style="right:405.60px;top:410.02px;font-size:9.6px;line-height:9.6px;letter-spacing:-0.300px;color:#111;font-weight:bold;-webkit-text-stroke:0;color:#1e1e1e;"><span class="su">1</span>3, 436, 107</div>
<div class="t" style="right:358.10px;top:410.15px;font-size:9.6px;line-height:9.6px;letter-spacing:-0.300px;color:#111;font-weight:bold;-webkit-text-stroke:0;color:#1e1e1e;">14, 835</div>
<div class="t" style="right:311.10px;top:410.28px;font-size:9.6px;line-height:9.6px;letter-spacing:-0.300px;color:#111;font-weight:bold;-webkit-text-stroke:0;color:#1e1e1e;">6, 069</div>
<div class="t" style="right:255.10px;top:410.43px;font-size:9.6px;line-height:9.6px;letter-spacing:-0.300px;color:#111;font-weight:bold;-webkit-text-stroke:0;color:#1e1e1e;">164, 831</div>
<div class="t" style="right:198.80px;top:410.58px;font-size:9.6px;line-height:9.6px;letter-spacing:-0.300px;color:#111;font-weight:bold;-webkit-text-stroke:0;color:#1e1e1e;"><span class="su">1</span>417, 658</div>
<div class="t" style="right:151.10px;top:410.71px;font-size:9.6px;line-height:9.6px;letter-spacing:-0.300px;color:#111;font-weight:bold;-webkit-text-stroke:0;color:#1e1e1e;"><span class="su">1</span>187, 753</div>
<div class="t" style="right:90.80px;top:410.87px;font-size:9.6px;line-height:9.6px;letter-spacing:-0.300px;color:#111;font-weight:bold;-webkit-text-stroke:0;color:#1e1e1e;"><span class="su">1</span>5, 634, 558</div>
<div class="t" style="left:115.07px;top:426.06px;font-size:10.4px;line-height:10.4px;letter-spacing:0.236px;color:#111;transform:scaleX(1.0589);transform-origin:0 0;">Total</div>
<div class="d" style="left:139.77px;top:434px;width:60.00px;background-position:-0.00px 0"></div>
<div class="d" style="left:199.77px;top:434px;width:60.00px;background-position:-60.00px 0"></div>
<div class="t" style="right:659.03px;top:427.24px;font-size:9.6px;line-height:9.6px;letter-spacing:-0.300px;color:#111;font-weight:bold;-webkit-text-stroke:0;color:#1e1e1e;">204, 968</div>
<div class="t" style="right:611.53px;top:427.37px;font-size:9.6px;line-height:9.6px;letter-spacing:-0.300px;color:#111;font-weight:bold;-webkit-text-stroke:0;color:#1e1e1e;">91, 087</div>
<div class="t" style="right:560.33px;top:427.50px;font-size:9.6px;line-height:9.6px;letter-spacing:-0.300px;color:#111;font-weight:bold;-webkit-text-stroke:0;color:#1e1e1e;">2, 033, 620</div>
<div class="t" style="right:508.53px;top:427.64px;font-size:9.6px;line-height:9.6px;letter-spacing:-0.300px;color:#111;font-weight:bold;-webkit-text-stroke:0;color:#1e1e1e;"><span class="su">1</span>538, 979</div>
<div class="t" style="right:461.33px;top:427.77px;font-size:9.6px;line-height:9.6px;letter-spacing:-0.300px;color:#111;font-weight:bold;-webkit-text-stroke:0;color:#1e1e1e;"><span class="su">1</span>249, 883</div>
<div class="t" style="right:405.53px;top:427.92px;font-size:9.6px;line-height:9.6px;letter-spacing:-0.300px;color:#111;font-weight:bold;-webkit-text-stroke:0;color:#1e1e1e;"><span class="su">1</span>13, 936, 756</div>
<div class="t" style="right:358.03px;top:428.05px;font-size:9.6px;line-height:9.6px;letter-spacing:-0.300px;color:#111;font-weight:bold;-webkit-text-stroke:0;color:#1e1e1e;">17, 365</div>
<div class="t" style="right:311.03px;top:428.18px;font-size:9.6px;line-height:9.6px;letter-spacing:-0.300px;color:#111;font-weight:bold;-webkit-text-stroke:0;color:#1e1e1e;">7, 114</div>
<div class="t" style="right:255.03px;top:428.33px;font-size:9.6px;line-height:9.6px;letter-spacing:-0.300px;color:#111;font-weight:bold;-webkit-text-stroke:0;color:#1e1e1e;">206, 530</div>
<div class="t" style="right:198.73px;top:428.48px;font-size:9.6px;line-height:9.6px;letter-spacing:-0.300px;color:#111;font-weight:bold;-webkit-text-stroke:0;color:#1e1e1e;">761, 312</div>
<div class="t" style="right:151.03px;top:428.61px;font-size:9.6px;line-height:9.6px;letter-spacing:-0.300px;color:#111;font-weight:bold;-webkit-text-stroke:0;color:#1e1e1e;">348, 084</div>
<div class="t" style="right:90.73px;top:428.77px;font-size:9.6px;line-height:9.6px;letter-spacing:-0.300px;color:#111;font-weight:bold;-webkit-text-stroke:0;color:#1e1e1e;">16, 176, 906</div>
<div class="t" style="left:87.71px;top:435.09px;font-size:10.4px;line-height:10.4px;letter-spacing:0.118px;color:#111;transform:scaleX(1.0256);transform-origin:0 0;">Oceania: New Caledonia<span class="sp">3</span></div>
<div class="d" style="left:202.40px;top:443px;width:57.40px;background-position:-0.00px 0"></div>
<div class="d" style="left:263.50px;top:443px;width:43.00px;background-position:-0.00px 0"></div>
<div class="d" style="left:310.50px;top:443px;width:43.50px;background-position:-0.00px 0"></div>
<div class="d" style="left:358.00px;top:443px;width:47.20px;background-position:-0.00px 0"></div>
<div class="t" style="right:508.49px;top:436.74px;font-size:9.6px;line-height:9.6px;letter-spacing:-0.300px;color:#111;font-weight:bold;-webkit-text-stroke:0;color:#1e1e1e;">98, 877</div>
<div class="t" style="right:461.29px;top:436.87px;font-size:9.6px;line-height:9.6px;letter-spacing:-0.300px;color:#111;font-weight:bold;-webkit-text-stroke:0;color:#1e1e1e;">48, 737</div>
<div class="t" style="right:405.49px;top:437.02px;font-size:9.6px;line-height:9.6px;letter-spacing:-0.300px;color:#111;font-weight:bold;-webkit-text-stroke:0;color:#1e1e1e;">3, 667, 256</div>
<div class="d" style="left:564.00px;top:444px;width:43.50px;background-position:-0.00px 0"></div>
<div class="d" style="left:611.50px;top:444px;width:34.30px;background-position:-0.00px 0"></div>
<div class="d" style="left:650.80px;top:444px;width:3.70px;background-position:-0.00px 0"></div>
<div class="d" style="left:658.50px;top:444px;width:52.00px;background-position:-0.00px 0"></div>
<div class="t" style="right:198.69px;top:437.58px;font-size:9.6px;line-height:9.6px;letter-spacing:-0.300px;color:#111;font-weight:bold;-webkit-text-stroke:0;color:#1e1e1e;">98, 877</div>
<div class="t" style="right:150.99px;top:437.71px;font-size:9.6px;line-height:9.6px;letter-spacing:-0.300px;color:#111;font-weight:bold;-webkit-text-stroke:0;color:#1e1e1e;">48, 737</div>
<div class="t" style="right:90.69px;top:437.87px;font-size:9.6px;line-height:9.6px;letter-spacing:-0.300px;color:#111;font-weight:bold;-webkit-text-stroke:0;color:#1e1e1e;">3, 667, 256</div>
<div class="t" style="left:115.18px;top:452.76px;font-size:10.4px;line-height:10.4px;letter-spacing:0.072px;color:#111;transform:scaleX(1.0165);transform-origin:0 0;">Grand total 1953</div>
<div class="d" style="left:188.92px;top:461px;width:31.72px;background-position:-0.00px 0"></div>
<div class="d" style="left:220.65px;top:461px;width:31.72px;background-position:-31.72px 0"></div>
<div class="d" style="left:257.37px;top:461px;width:2.50px;background-position:-0.00px 0"></div>
<div class="t" style="right:658.92px;top:453.94px;font-size:9.6px;line-height:9.6px;letter-spacing:-0.300px;color:#111;font-weight:bold;-webkit-text-stroke:0;color:#1e1e1e;">204, 968</div>
<div class="t" style="right:611.42px;top:454.07px;font-size:9.6px;line-height:9.6px;letter-spacing:-0.300px;color:#111;font-weight:bold;-webkit-text-stroke:0;color:#1e1e1e;">91, 087</div>
<div class="t" style="right:560.22px;top:454.20px;font-size:9.6px;line-height:9.6px;letter-spacing:-0.300px;color:#111;font-weight:bold;-webkit-text-stroke:0;color:#1e1e1e;">2, 033, 620</div>
<div class="t" style="right:508.42px;top:454.34px;font-size:9.6px;line-height:9.6px;letter-spacing:-0.300px;color:#111;font-weight:bold;-webkit-text-stroke:0;color:#1e1e1e;"><span class="su">1</span>1, 393, 300</div>
<div class="t" style="right:461.22px;top:454.47px;font-size:9.6px;line-height:9.6px;letter-spacing:-0.300px;color:#111;font-weight:bold;-webkit-text-stroke:0;color:#1e1e1e;"><span class="su">1</span>643, 492</div>
<div class="t" style="right:405.42px;top:454.62px;font-size:9.6px;line-height:9.6px;letter-spacing:-0.300px;color:#111;font-weight:bold;-webkit-text-stroke:0;color:#1e1e1e;"><span class="su">1</span>45, 380, 226</div>
<div class="t" style="right:357.92px;top:454.75px;font-size:9.6px;line-height:9.6px;letter-spacing:-0.300px;color:#111;font-weight:bold;-webkit-text-stroke:0;color:#1e1e1e;">628, 363</div>
<div class="t" style="right:310.92px;top:454.88px;font-size:9.6px;line-height:9.6px;letter-spacing:-0.300px;color:#111;font-weight:bold;-webkit-text-stroke:0;color:#1e1e1e;">207, 913</div>
<div class="t" style="right:254.92px;top:455.03px;font-size:9.6px;line-height:9.6px;letter-spacing:-0.300px;color:#111;font-weight:bold;-webkit-text-stroke:0;color:#1e1e1e;">8, 688, 407</div>
<div class="t" style="right:198.62px;top:455.18px;font-size:9.6px;line-height:9.6px;letter-spacing:-0.300px;color:#111;font-weight:bold;-webkit-text-stroke:0;color:#1e1e1e;"><span class="su">1</span>2, 226, 631</div>
<div class="t" style="right:150.92px;top:455.31px;font-size:9.6px;line-height:9.6px;letter-spacing:-0.300px;color:#111;font-weight:bold;-webkit-text-stroke:0;color:#1e1e1e;"><span class="su">1</span>942, 492</div>
<div class="t" style="right:90.62px;top:455.47px;font-size:9.6px;line-height:9.6px;letter-spacing:-0.300px;color:#111;font-weight:bold;-webkit-text-stroke:0;color:#1e1e1e;"><span class="su">1</span>56, 102, 253</div>
<div class="t" style="left:164.60px;top:471.13px;font-size:10px;line-height:10px;letter-spacing:-0.525px;font-weight:bold;-webkit-text-stroke:0;color:#111;">1954</div>
<div class="t" style="left:87.92px;top:488.09px;font-size:10.4px;line-height:10.4px;letter-spacing:0.212px;color:#111;transform:scaleX(1.0472);transform-origin:0 0;">North America: Cuba</div>
<div class="d" style="left:186.82px;top:496px;width:36.60px;background-position:-0.00px 0"></div>
<div class="d" style="left:223.42px;top:496px;width:36.60px;background-position:-36.60px 0"></div>
<div class="d" style="left:263.72px;top:496px;width:43.00px;background-position:-0.00px 0"></div>
<div class="d" style="left:310.72px;top:496px;width:43.50px;background-position:-0.00px 0"></div>
<div class="d" style="left:358.22px;top:496px;width:47.20px;background-position:-0.00px 0"></div>
<div class="d" style="left:409.42px;top:497px;width:47.80px;background-position:-0.00px 0"></div>
<div class="d" style="left:461.22px;top:497px;width:43.20px;background-position:-0.00px 0"></div>
<div class="d" style="left:508.42px;top:497px;width:51.80px;background-position:-0.00px 0"></div>
<div class="t" style="right:357.78px;top:490.15px;font-size:9.6px;line-height:9.6px;letter-spacing:-0.300px;color:#111;font-weight:bold;-webkit-text-stroke:0;color:#1e1e1e;">37, 579</div>
<div class="t" style="right:310.78px;top:490.28px;font-size:9.6px;line-height:9.6px;letter-spacing:-0.300px;color:#111;font-weight:bold;-webkit-text-stroke:0;color:#1e1e1e;">13, 795</div>
<div class="t" style="right:254.78px;top:490.43px;font-size:9.6px;line-height:9.6px;letter-spacing:-0.300px;color:#111;font-weight:bold;-webkit-text-stroke:0;color:#1e1e1e;">828, 997</div>
<div class="t" style="right:198.48px;top:490.58px;font-size:9.6px;line-height:9.6px;letter-spacing:-0.300px;color:#111;font-weight:bold;-webkit-text-stroke:0;color:#1e1e1e;">37, 579</div>
<div class="t" style="right:150.78px;top:490.71px;font-size:9.6px;line-height:9.6px;letter-spacing:-0.300px;color:#111;font-weight:bold;-webkit-text-stroke:0;color:#1e1e1e;">13, 795</div>
<div class="t" style="right:90.48px;top:490.87px;font-size:9.6px;line-height:9.6px;letter-spacing:-0.300px;color:#111;font-weight:bold;-webkit-text-stroke:0;color:#1e1e1e;">828, 997</div>
<div class="t" style="left:87.95px;top:496.69px;font-size:10.4px;line-height:10.4px;letter-spacing:0.145px;color:#111;transform:scaleX(1.0319);transform-origin:0 0;">Europe:</div>
<div class="t" style="left:105.59px;top:505.34px;font-size:10.4px;line-height:10.4px;letter-spacing:0.146px;color:#111;transform:scaleX(1.0306);transform-origin:0 0;">Greece</div>
<div class="d" style="left:137.81px;top:513px;width:40.76px;background-position:-0.00px 0"></div>
<div class="d" style="left:178.57px;top:513px;width:40.76px;background-position:-40.76px 0"></div>
<div class="d" style="left:219.33px;top:513px;width:40.76px;background-position:-81.52px 0"></div>
<div class="d" style="left:263.78px;top:513px;width:43.00px;background-position:-0.00px 0"></div>
<div class="d" style="left:310.78px;top:513px;width:43.50px;background-position:-0.00px 0"></div>
<div class="d" style="left:358.28px;top:514px;width:47.20px;background-position:-0.00px 0"></div>
<div class="d" style="left:409.48px;top:514px;width:47.80px;background-position:-0.00px 0"></div>
<div class="d" style="left:461.28px;top:514px;width:43.20px;background-position:-0.00px 0"></div>
<div class="d" style="left:508.48px;top:514px;width:51.80px;background-position:-0.00px 0"></div>
<div class="t" style="right:357.71px;top:507.35px;font-size:9.6px;line-height:9.6px;letter-spacing:-0.300px;color:#111;font-weight:bold;-webkit-text-stroke:0;color:#1e1e1e;">55</div>
<div class="t" style="right:310.71px;top:507.48px;font-size:9.6px;line-height:9.6px;letter-spacing:-0.300px;color:#111;font-weight:bold;-webkit-text-stroke:0;color:#1e1e1e;">23</div>
<div class="t" style="right:254.71px;top:507.63px;font-size:9.6px;line-height:9.6px;letter-spacing:-0.300px;color:#111;font-weight:bold;-webkit-text-stroke:0;color:#1e1e1e;">1, 300</div>
<div class="t" style="right:198.41px;top:507.78px;font-size:9.6px;line-height:9.6px;letter-spacing:-0.300px;color:#111;font-weight:bold;-webkit-text-stroke:0;color:#1e1e1e;">55</div>
<div class="t" style="right:150.71px;top:507.91px;font-size:9.6px;line-height:9.6px;letter-spacing:-0.300px;color:#111;font-weight:bold;-webkit-text-stroke:0;color:#1e1e1e;">23</div>
<div class="t" style="right:90.41px;top:508.07px;font-size:9.6px;line-height:9.6px;letter-spacing:-0.300px;color:#111;font-weight:bold;-webkit-text-stroke:0;color:#1e1e1e;">1, 300</div>
<div class="t" style="left:105.62px;top:514.04px;font-size:10.4px;line-height:10.4px;letter-spacing:0.146px;color:#111;transform:scaleX(1.0304);transform-origin:0 0;">Turkey</div>
<div class="d" style="left:138.06px;top:522px;width:40.69px;background-position:-0.00px 0"></div>
<div class="d" style="left:178.75px;top:522px;width:40.69px;background-position:-40.69px 0"></div>
<div class="d" style="left:219.43px;top:522px;width:40.69px;background-position:-81.37px 0"></div>
<div class="d" style="left:263.82px;top:522px;width:43.00px;background-position:-0.00px 0"></div>
<div class="d" style="left:310.82px;top:522px;width:43.50px;background-position:-0.00px 0"></div>
<div class="d" style="left:358.32px;top:522px;width:47.20px;background-position:-0.00px 0"></div>
<div class="t" style="right:508.18px;top:515.64px;font-size:9.6px;line-height:9.6px;letter-spacing:-0.300px;color:#111;font-weight:bold;-webkit-text-stroke:0;color:#1e1e1e;">304, 643</div>
<div class="t" style="right:460.98px;top:515.77px;font-size:9.6px;line-height:9.6px;letter-spacing:-0.300px;color:#111;font-weight:bold;-webkit-text-stroke:0;color:#1e1e1e;">141, 745</div>
<div class="t" style="right:405.18px;top:515.92px;font-size:9.6px;line-height:9.6px;letter-spacing:-0.300px;color:#111;font-weight:bold;-webkit-text-stroke:0;color:#1e1e1e;">11, 876, 739</div>
<div class="d" style="left:564.32px;top:523px;width:43.50px;background-position:-0.00px 0"></div>
<div class="d" style="left:611.82px;top:523px;width:43.00px;background-position:-0.00px 0"></div>
<div class="d" style="left:658.82px;top:523px;width:52.00px;background-position:-0.00px 0"></div>
<div class="t" style="right:198.38px;top:516.48px;font-size:9.6px;line-height:9.6px;letter-spacing:-0.300px;color:#111;font-weight:bold;-webkit-text-stroke:0;color:#1e1e1e;">304, 643</div>
<div class="t" style="right:150.68px;top:516.61px;font-size:9.6px;line-height:9.6px;letter-spacing:-0.300px;color:#111;font-weight:bold;-webkit-text-stroke:0;color:#1e1e1e;">141, 745</div>
<div class="t" style="right:90.38px;top:516.77px;font-size:9.6px;line-height:9.6px;letter-spacing:-0.300px;color:#111;font-weight:bold;-webkit-text-stroke:0;color:#1e1e1e;">11, 876, 739</div>
<div class="t" style="left:115.49px;top:531.66px;font-size:10.4px;line-height:10.4px;letter-spacing:0.236px;color:#111;transform:scaleX(1.0589);transform-origin:0 0;">Total</div>
<div class="d" style="left:140.19px;top:539px;width:60.00px;background-position:-0.00px 0"></div>
<div class="d" style="left:200.19px;top:539px;width:60.00px;background-position:-60.00px 0"></div>
<div class="d" style="left:263.89px;top:540px;width:43.00px;background-position:-0.00px 0"></div>
<div class="d" style="left:310.89px;top:540px;width:43.50px;background-position:-0.00px 0"></div>
<div class="d" style="left:358.39px;top:540px;width:47.20px;background-position:-0.00px 0"></div>
<div class="t" style="right:508.11px;top:533.24px;font-size:9.6px;line-height:9.6px;letter-spacing:-0.300px;color:#111;font-weight:bold;-webkit-text-stroke:0;color:#1e1e1e;">304, 643</div>
<div class="t" style="right:460.91px;top:533.37px;font-size:9.6px;line-height:9.6px;letter-spacing:-0.300px;color:#111;font-weight:bold;-webkit-text-stroke:0;color:#1e1e1e;">141, 745</div>
<div class="t" style="right:405.11px;top:533.52px;font-size:9.6px;line-height:9.6px;letter-spacing:-0.300px;color:#111;font-weight:bold;-webkit-text-stroke:0;color:#1e1e1e;">11, 876, 739</div>
<div class="t" style="right:357.61px;top:533.65px;font-size:9.6px;line-height:9.6px;letter-spacing:-0.300px;color:#111;font-weight:bold;-webkit-text-stroke:0;color:#1e1e1e;">55</div>
<div class="t" style="right:310.61px;top:533.78px;font-size:9.6px;line-height:9.6px;letter-spacing:-0.300px;color:#111;font-weight:bold;-webkit-text-stroke:0;color:#1e1e1e;">23</div>
<div class="t" style="right:254.61px;top:533.93px;font-size:9.6px;line-height:9.6px;letter-spacing:-0.300px;color:#111;font-weight:bold;-webkit-text-stroke:0;color:#1e1e1e;">1, 300</div>
<div class="t" style="right:198.31px;top:534.08px;font-size:9.6px;line-height:9.6px;letter-spacing:-0.300px;color:#111;font-weight:bold;-webkit-text-stroke:0;color:#1e1e1e;">304, 698</div>
<div class="t" style="right:150.61px;top:534.21px;font-size:9.6px;line-height:9.6px;letter-spacing:-0.300px;color:#111;font-weight:bold;-webkit-text-stroke:0;color:#1e1e1e;">141, 768</div>
<div class="t" style="right:90.31px;top:534.37px;font-size:9.6px;line-height:9.6px;letter-spacing:-0.300px;color:#111;font-weight:bold;-webkit-text-stroke:0;color:#1e1e1e;">11, 878, 039</div>
<div class="t r" style="left:903.36px;top:82.06px;font-size:19px;line-height:19px;letter-spacing:-0.750px;-webkit-text-stroke:0.55px #111;">312</div>
<div class="t r" style="left:900.56px;top:221.57px;font-size:12.6px;line-height:12.6px;letter-spacing:0.775px;-webkit-text-stroke:0.5px #111;">MINERALS</div>
<div class="t r" style="left:900.88px;top:300.67px;font-size:12.6px;line-height:12.6px;letter-spacing:-0.141px;-webkit-text-stroke:0.5px #111;">YEARBOOK,</div>
<div class="t r" style="left:901.20px;top:380.87px;font-size:12.6px;line-height:12.6px;letter-spacing:2.271px;-webkit-text-stroke:0.5px #111;">1954</div>
</div></body></html>
